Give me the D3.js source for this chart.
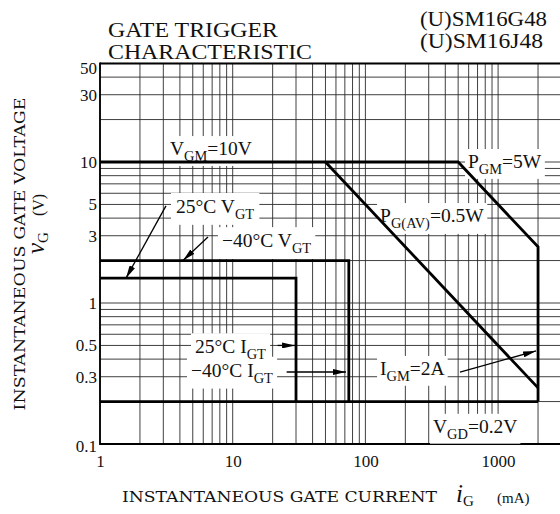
<!DOCTYPE html>
<html><head><meta charset="utf-8">
<script src="https://cdn.jsdelivr.net/npm/d3@7"></script>
<style>
body{margin:0;background:#fff}
svg{display:block}
text{font-family:"Liberation Serif","Times New Roman",serif;fill:#111}
text.ttl{font-family:"DejaVu Serif","Liberation Serif",serif}
</style>
</head><body>
<svg id="c" width="560" height="514"></svg>
<script>
// ---- data (gate current in mA, gate voltage in V) ----
const xTicks = [1, 10, 100, 1000];
const yTicks = [0.1, 0.3, 0.5, 1, 3, 5, 10, 30, 50];
const outlineI = [1, 500, 2000, 2000];      // VGM=10V, PGM=5W, IGM=2A
const outlineV = [10, 10, 2.5, 0.2];
const pgavI = [50, 2000];                    // PG(AV)=0.5W
const pgavV = [10, 0.25];
const vgt25I = [1, 30, 30];                  // 25°C VGT / IGT
const vgt25V = [1.5, 1.5, 0.2];
const vgt40I = [1, 75, 75];                  // -40°C VGT / IGT
const vgt40V = [2, 2, 0.2];
const vgdI = [1, 2000];                      // VGD=0.2V
const vgdV = [0.2, 0.2];

const svg = d3.select("#c");
const x = d3.scaleLog().domain([1, 3000]).range([100, 100 + 132.7 * Math.log10(3000)]);
const y = d3.scaleLog().domain([0.1, 50]).range([444, 444 - 141 * Math.log10(500)]);

// grid
const gxVals = [];
[1, 10, 100, 1000].forEach(d => { for (let m = 1; m <= 9; m++) if (d * m <= 3000) gxVals.push(d * m); });
const gyVals = [];
[0.1, 1, 10].forEach(d => { for (let m = 1; m <= 9; m++) if (d * m <= 50) gyVals.push(+(d * m).toFixed(2)); });

const gGrid = svg.append("g").attr("stroke", "#2a2a2a").attr("stroke-width", 0.9);
gGrid.selectAll("line.v").data(gxVals).join("line").attr("class", "v")
  .attr("x1", d => x(d)).attr("x2", d => x(d)).attr("y1", y(0.1)).attr("y2", y(50));
gGrid.selectAll("line.h").data(gyVals).join("line").attr("class", "h")
  .attr("x1", x(1)).attr("x2", x(3000)).attr("y1", d => y(d)).attr("y2", d => y(d));

// borders
const gB = svg.append("g").attr("stroke", "#000").attr("fill", "none");
gB.append("line").attr("x1", x(1)).attr("x2", x(1)).attr("y1", y(0.1) + 1).attr("y2", y(50) - 1).attr("stroke-width", 1.8);
gB.append("line").attr("x1", x(1)).attr("x2", x(3000)).attr("y1", y(0.1)).attr("y2", y(0.1)).attr("stroke-width", 1.8);
gB.append("line").attr("x1", x(1)).attr("x2", x(3000)).attr("y1", y(50)).attr("y2", y(50)).attr("stroke-width", 2);

// axes (labels only)
const ax = svg.append("g").attr("transform", `translate(0,${y(0.1)})`)
  .call(d3.axisBottom(x).tickValues(xTicks).tickSize(0).tickPadding(11).tickFormat(d3.format("d")));
ax.select(".domain").remove();
ax.selectAll("text").attr("font-size", 17).attr("font-family", null);
const ay = svg.append("g").attr("transform", `translate(${x(1)},0)`)
  .call(d3.axisLeft(y).tickValues(yTicks).tickSize(0).tickPadding(3).tickFormat(d => String(d)));
ay.select(".domain").remove();
ay.selectAll("text").attr("font-size", 17).attr("font-family", null)
  .attr("dy", d => d === 50 ? "0.62em" : d === 0.1 ? "0.45em" : "0.32em");

const gBox = svg.append("g");
const gLines = svg.append("g");
const gText = svg.append("g");

// thick characteristic lines
const line = d3.line().x(d => x(d[0])).y(d => y(d[1]));
function thick(I, V) {
  gLines.append("path").datum(I.map((v, i) => [v, V[i]])).attr("d", line)
    .attr("fill", "none").attr("stroke", "#000").attr("stroke-width", 2.8).attr("stroke-linejoin", "miter");
}
thick(outlineI, outlineV);
thick(pgavI, pgavV);
thick(vgt25I, vgt25V);
thick(vgt40I, vgt40V);
thick(vgdI, vgdV);

// labels with white boxes
function label(px, py, parts, size, pad) {
  const t = gText.append("text").attr("x", x(px)).attr("y", y(py)).attr("font-size", size);
  let shift = 0;
  parts.forEach(p => {
    const [str, kind] = p;
    const ts = t.append("tspan").text(str);
    if (kind === "sub") {
      const d = size * 0.3;
      ts.attr("font-size", size * 0.74).attr("dy", d - shift); shift = d;
    } else {
      ts.attr("dy", -shift); shift = 0;
    }
  });
  const b = t.node().getBBox();
  const p = pad || [3, 2];
  gBox.append("rect").attr("x", b.x - p[0]).attr("y", b.y - p[1])
    .attr("width", b.width + 2 * p[0]).attr("height", b.height + 2 * p[1]).attr("fill", "#fff");
}
const LS = 19.5;
label(3.37, 11.2, [["V"], ["GM", "sub"], ["=10V"]], LS);
label(593, 9.06, [["P"], ["GM", "sub"], ["=5W"]], LS);
label(129, 3.75, [["P"], ["G(AV)", "sub"], ["=0.5W"]], LS);
label(3.74, 4.35, [["25°C V"], ["GT", "sub"]], LS, [5, 3]);
label(8.3, 2.49, [["\u221240°C V"], ["GT", "sub"]], LS, [4, 3]);
label(5.2, 0.44, [["25°C I"], ["GT", "sub"]], LS, [4, 3]);
label(4.85, 0.30, [["\u221240°C I"], ["GT", "sub"]], LS, [4, 3]);
label(129, 0.309, [["I"], ["GM", "sub"], ["=2A"]], LS);
label(323, 0.12, [["V"], ["GD", "sub"], ["=0.2V"]], LS);

// arrows
const defs = svg.append("defs");
defs.append("marker").attr("id", "ah").attr("viewBox", "0 0 13 6").attr("refX", 13).attr("refY", 3)
  .attr("markerWidth", 13).attr("markerHeight", 6).attr("markerUnits", "userSpaceOnUse").attr("orient", "auto")
  .append("path").attr("d", "M0,0 L13,3 L0,6 Z").attr("fill", "#000");
const arrows = [
  [[3.14, 4.88], [1.57, 1.5]],
  [[6.51, 2.94], [4.22, 2]],
  [[21.8, 0.5], [29.5, 0.5]],
  [[25.5, 0.324], [71.4, 0.324]],
  [[516, 0.324], [1932, 0.457]]
];
gText.selectAll("path.arr").data(arrows).join("path").attr("class", "arr")
  .attr("d", line).attr("stroke", "#000").attr("stroke-width", 1.3).attr("fill", "none")
  .attr("marker-end", "url(#ah)");

// titles
const T = svg.append("g");
T.append("text").attr("x", 108).attr("y", 37).attr("font-size", 20)
  .attr("textLength", 170).attr("lengthAdjust", "spacingAndGlyphs").text("GATE TRIGGER");
T.append("text").attr("x", 108).attr("y", 59).attr("font-size", 20)
  .attr("textLength", 204).attr("lengthAdjust", "spacingAndGlyphs").text("CHARACTERISTIC");
T.append("text").attr("x", 420).attr("y", 26).attr("font-size", 20)
  .attr("textLength", 127).attr("lengthAdjust", "spacingAndGlyphs").text("(U)SM16G48");
T.append("text").attr("x", 420).attr("y", 48).attr("font-size", 20)
  .attr("textLength", 123).attr("lengthAdjust", "spacingAndGlyphs").text("(U)SM16J48");

// axis titles
T.append("text").attr("class", "ttl").attr("x", 122).attr("y", 502).attr("font-size", 15.5)
  .attr("textLength", 315).attr("lengthAdjust", "spacingAndGlyphs").text("INSTANTANEOUS GATE CURRENT");
const ig = T.append("text").attr("x", 456).attr("y", 502);
ig.append("tspan").attr("font-size", 25).attr("font-style", "italic").text("i");
ig.append("tspan").attr("font-size", 15).attr("dy", 4).text("G");
T.append("text").attr("x", 497).attr("y", 503).attr("font-size", 15).text("(mA)");

T.append("text").attr("class", "ttl").attr("transform", "translate(25,254) rotate(-90)").attr("text-anchor", "middle")
  .attr("font-size", 15.5).attr("textLength", 313).attr("lengthAdjust", "spacingAndGlyphs").text("INSTANTANEOUS GATE VOLTAGE");
const vg = T.append("text").attr("transform", "translate(44,254) rotate(-90)");
vg.append("tspan").attr("font-size", 25).attr("font-style", "italic").text("v");
vg.append("tspan").attr("font-size", 15).attr("dy", 4).text("G");
vg.append("tspan").attr("font-size", 16).attr("dy", -4).text("\u2003(V)");
</script>
</body></html>
